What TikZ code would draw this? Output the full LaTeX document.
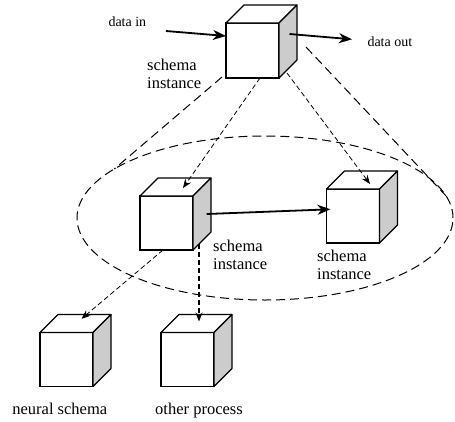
\documentclass[tikz,border=0pt]{standalone}
\usepackage{fontspec}
\setmainfont{Liberation Serif}
\usetikzlibrary{arrows.meta,shapes.geometric,calc}
\definecolor{sidegray}{HTML}{CCCCCC}
\newcommand\cubefaces[1]{%
  \filldraw[face, fill=white] (#1.north west) -- ++(18pt,18pt) -- ([shift={(18pt,18pt)}]#1.north east) -- (#1.north east) -- cycle;
  \filldraw[face, fill=sidegray] (#1.north east) -- ++(18pt,18pt) -- ([shift={(18pt,18pt)}]#1.south east) -- (#1.south east) -- cycle;}
\newcommand\twoline[2]{\begin{tabular}[t]{@{}l@{}}#1\\#2\end{tabular}}
\begin{document}
\begin{tikzpicture}[x=1pt,y=-1pt,
  cube/.style={draw, fill=white, line width=1.1pt, minimum width=53pt, minimum height=54pt, inner sep=0pt, outer sep=0pt},
  face/.style={draw, line width=1.1pt, line join=round},
  small/.style={font=\fontsize{14}{16}\selectfont, inner sep=0pt},
  big/.style={font=\fontsize{16.5}{18.3}\selectfont, inner sep=0pt},
  flow/.style={line width=1.8pt, -{Stealth[length=13pt,width=10pt,inset=4pt]}},
  link/.style={line width=0.8pt, dash pattern=on 5pt off 3pt, -{Stealth[length=9pt,width=7pt,inset=3pt]}},
  heavylink/.style={line width=1.5pt, dash pattern=on 5pt off 3pt, -{Stealth[length=9pt,width=7pt,inset=3pt]}},
  cone/.style={line width=1pt, dash pattern=on 9pt off 5pt},
]
\useasboundingbox (0,0) rectangle (455,421);
% ellipse
\node[draw, ellipse, cone, minimum width=376pt, minimum height=164pt, inner sep=0pt, outer sep=0pt] (E) at (265,218) {};
% cubes
\node[cube, minimum height=55pt] (T) at (252.5,50.5) {};
\cubefaces{T}
\node[cube] (A) at (166.5,223) {};
\cubefaces{A}
\node[cube] (B) at (353,216) {};
\cubefaces{B}
\node[cube] (N) at (66.5,359.5) {};
\cubefaces{N}
\node[cube] (O) at (187.5,359.5) {};
\cubefaces{O}
% labels
\node[small, anchor=base west] (ldin) at (108.3,26.5) {data in};
\node[small, anchor=base west] (ldout) at (367.3,46.5) {data out};
\node[big, anchor=base west] (s1) at (147,70) {\twoline{schema}{instance}};
\node[big, anchor=base west] (s2) at (213,251.5) {\twoline{schema}{instance}};
\node[big, anchor=base west] (s3) at (317,261.5) {\twoline{schema}{instance}};
\node[big, anchor=base] (ln) at (59.8,414) {neural schema};
\node[big, anchor=base] (lo) at (199,414) {other process};
% connectors
\coordinate (din) at (166,31);
\coordinate (dout) at (352,39.3);
\draw[flow] (din) -- ([yshift=14.5pt]T.west);
\draw[flow] ([xshift=10.5pt,yshift=16.5pt]T.east) -- (dout);
\draw[cone] ([xshift=-4pt,yshift=1pt]T.south west) -- (E.162.5);
\draw[cone] ([xshift=27pt,yshift=3.5pt]T.east) -- (E.7.7);
\draw[link] ([xshift=7.5pt]T.south) -- ([xshift=16.5pt,yshift=8pt]A.north);
\draw[link] ([xshift=8pt,yshift=5pt]T.south east) -- ([xshift=17pt,yshift=5pt]B.north);
\draw[flow] ([xshift=13.7pt,yshift=9pt]A.east) -- ([xshift=4pt,yshift=6.7pt]B.west);
\draw[link] ([xshift=-3.5pt]A.south) -- ([xshift=15pt,yshift=13.7pt]N.north);
\draw[heavylink] ([xshift=6pt,yshift=6pt]A.south east) -- ([xshift=11.5pt,yshift=11pt]O.north);
\end{tikzpicture}
\end{document}
